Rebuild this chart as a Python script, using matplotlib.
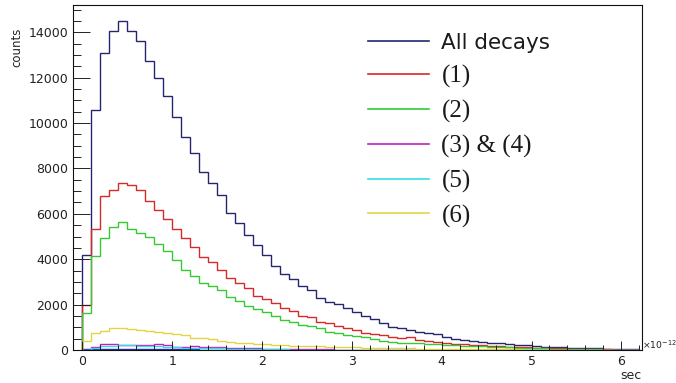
import numpy as np
import matplotlib

matplotlib.use("Agg")
import matplotlib.pyplot as plt
from matplotlib.ticker import MultipleLocator

# bin contents, 0.1 wide bins from 0 to 6.2 (x in units of 1e-12 s)
ALL_DECAYS = [4200, 10570, 13100, 14050, 14480, 14050, 13610, 12740, 12000, 11200,
              10270, 9400, 8680, 7840, 7370, 6830, 6020, 5610, 5070, 4630,
              4170, 3690, 3370, 3140, 2840, 2650, 2280, 2130, 2030, 1840,
              1690, 1500, 1350, 1200, 1030, 960, 880, 810, 730, 700,
              580, 500, 460, 410, 360, 320, 290, 260, 220, 210,
              180, 150, 145, 120, 110, 100, 75, 70, 60, 50,
              40, 35]
CH1 = [2000, 5310, 6780, 7050, 7370, 7270, 7050, 6580, 6180, 5780,
       5320, 4940, 4520, 4080, 3860, 3520, 3160, 2950, 2740, 2370,
       2250, 2050, 1830, 1700, 1520, 1440, 1250, 1170, 1070, 960,
       880, 760, 700, 660, 590, 510, 560, 440, 410, 370,
       290, 260, 250, 220, 210, 190, 170, 150, 130, 120,
       100, 90, 80, 70, 65, 50, 40, 30, 25, 20,
       15, 10]
CH2 = [1620, 4140, 4920, 5430, 5650, 5310, 5140, 4960, 4650, 4380,
       3960, 3540, 3250, 2950, 2800, 2650, 2330, 2170, 1950, 1790,
       1660, 1490, 1340, 1220, 1120, 1060, 960, 810, 760, 660,
       620, 560, 470, 410, 370, 320, 310, 290, 260, 280,
       220, 220, 190, 180, 165, 150, 130, 115, 100, 90,
       80, 70, 60, 50, 45, 40, 30, 25, 20, 15,
       10, 10]
CH34 = [20, 120, 280, 250, 240, 230, 230, 220, 270, 200,
        150, 130, 160, 150, 140, 120, 110, 90, 80, 70,
        60, 55, 50, 45, 40, 35, 30, 25, 20, 18,
        15, 12, 10, 8, 6, 5, 4, 3, 2, 2,
        0, 0, 0, 0, 0, 0, 0, 0, 0, 0,
        0, 0, 0, 0, 0, 0, 0, 0, 0, 0,
        0, 0]
CH5 = [10, 100, 170, 190, 200, 200, 190, 180, 160, 150,
       130, 110, 100, 90, 80, 70, 60, 50, 45, 40,
       35, 30, 25, 20, 18, 15, 12, 10, 8, 6,
       5, 4, 3, 3, 2, 2, 2, 1, 1, 1,
       0, 0, 0, 0, 0, 0, 0, 0, 0, 0,
       0, 0, 0, 0, 0, 0, 0, 0, 0, 0,
       0, 0]
CH6 = [380, 730, 850, 950, 950, 940, 900, 850, 790, 730,
       700, 660, 520, 510, 470, 410, 370, 300, 290, 280,
       260, 230, 200, 190, 180, 170, 160, 150, 140, 130,
       120, 110, 100, 95, 85, 80, 70, 65, 60, 55,
       50, 45, 40, 38, 35, 32, 30, 28, 25, 22,
       20, 18, 16, 15, 14, 12, 10, 9, 8, 7,
       6, 5]
# faint unlabeled component along the axis up to 2.2
OTHER = [40, 50, 45, 40, 40, 35, 35, 30, 30, 30, 25,
         25, 25, 20, 20, 20, 15, 15, 15, 10, 10, 10]

LABELS = ["All decays", "(1)", "(2)", "(3) & (4)", "(5)", "(6)"]
COLORS = ["#26266e", "#d42a2a", "#35c935", "#c01fc4", "#36dede", "#e3d443"]
BIN_EDGES = np.linspace(0.0, 6.2, 63)


def main() -> int:
    fig = plt.figure(figsize=(6.76, 3.83), dpi=100)
    ax = fig.add_axes([73 / 676, 1 - 350 / 383, 569 / 676, 345 / 383])

    series = [ALL_DECAYS, CH1, CH2, CH34, CH5, CH6]
    handles = []
    for values, label, color in zip(series, LABELS, COLORS):
        h = ax.stairs(values, BIN_EDGES, baseline=0, color=color, lw=1.0, label=label)
        handles.append(h)
        if label == "All decays":
            ax.stairs(OTHER, BIN_EDGES[: len(OTHER) + 1], baseline=0, color="#2a2ab4", lw=1.0)

    ax.set_xlim(-0.105, 6.23)
    ax.set_ylim(0, 15200)

    ax.xaxis.set_major_locator(MultipleLocator(1))
    ax.xaxis.set_minor_locator(MultipleLocator(0.2))
    ax.yaxis.set_major_locator(MultipleLocator(2000))
    ax.yaxis.set_minor_locator(MultipleLocator(500))
    ax.tick_params(axis="both", which="both", direction="in", width=0.7, colors="#222222",
                   labelsize=9, pad=3.5)
    ax.tick_params(axis="y", which="major", length=12)
    ax.tick_params(axis="y", which="minor", length=6)
    ax.tick_params(axis="x", which="major", length=6.5)
    ax.tick_params(axis="x", which="minor", length=3.5)
    for spine in ax.spines.values():
        spine.set_linewidth(0.8)
        spine.set_color("#111111")

    ax.set_xlabel("sec", loc="right", fontsize=9, labelpad=1, color="#222222")
    ax.set_ylabel("counts", fontsize=8.5, color="#222222")
    ax.yaxis.set_label_coords(-0.087, 0.878)
    ax.text(1.0003, 0.015, r"$\times$10$^{-12}$", transform=ax.transAxes, fontsize=6.7,
            ha="left", va="center", color="#222222", clip_on=False)

    leg = ax.legend(handles=handles, loc="upper left", bbox_to_anchor=(0.518, 0.922),
                    frameon=False, fontsize=18, handlelength=2.45, handletextpad=0.5,
                    labelspacing=0.47, borderpad=0, borderaxespad=0)
    for line in leg.get_lines():
        line.set_linewidth(1.2)
    for i, txt in enumerate(leg.get_texts()):
        if i == 0:
            txt.set_fontfamily("DejaVu Sans")
            txt.set_fontsize(15.5)
        else:
            txt.set_fontfamily("Liberation Serif")
        txt.set_color("#1a1a1a")

    fig.savefig("out.png", dpi=100)
    plt.close(fig)
    return 0


if __name__ == "__main__":
    raise SystemExit(main())
